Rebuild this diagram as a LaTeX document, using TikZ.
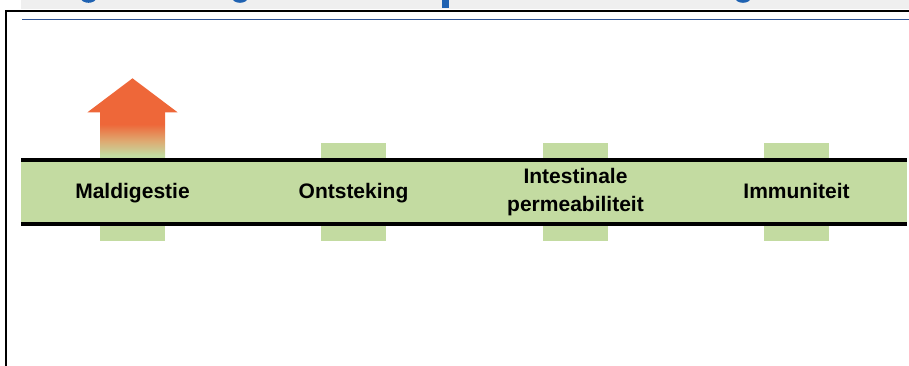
\documentclass[tikz,border=0pt]{standalone}
\usepackage{fontspec}
\setmainfont{Liberation Sans}
\definecolor{bandgreen}{HTML}{C3DBA1}
\definecolor{arroworange}{HTML}{EE6739}
\definecolor{arrowtan}{HTML}{DFA76F}
\definecolor{titleblue}{HTML}{1F62B2}
\definecolor{ruleblue}{HTML}{2F5496}
\definecolor{bandgrey}{HTML}{EFEFEF}
\pgfdeclareverticalshading{arrowshade}{100bp}{color(0bp)=(bandgreen); color(29bp)=(bandgreen); color(45bp)=(arrowtan); color(62bp)=(arroworange); color(100bp)=(arroworange)}
\tikzset{
  tabbox/.style={fill=bandgreen, draw=none},
  bandline/.style={line width=3.6bp, black},
  lbl/.style={font=\fontsize{21bp}{27.5bp}\selectfont\bfseries, align=center, inner sep=0pt},
  frameline/.style={line width=2bp, black}
}
\begin{document}
\begin{tikzpicture}[x=1bp,y=-1bp]
\useasboundingbox (0,0) rectangle (909,365);
% grey title strip with clipped title fragments
\fill[bandgrey] (21,-2) rectangle (911,9);
\begin{scope}
  \clip (21,0) rectangle (911,9);
  \fill[titleblue] (88.5,-1.8) ellipse [x radius=7.5, y radius=4.6];
  \fill[titleblue] (240,-1.8) ellipse [x radius=7.5, y radius=4.6];
  \fill[titleblue] (743,-1.8) ellipse [x radius=7.5, y radius=4.6];
  \fill[titleblue] (442,-2) rectangle (448.5,8);
\end{scope}
% frame
\coordinate (fa) at (6.3,366);
\coordinate (fb) at (6.3,11);
\coordinate (fc) at (911,11);
\draw[frameline] (fa) -- (fb) -- (fc);
\coordinate (ra) at (22,19.5);
\coordinate (rb) at (911,19.5);
\draw[ruleblue, line width=1.3bp] (ra) -- (rb);
% tabs
\foreach \cx in {132.5,353.5,575.5,796.5}{
  \fill[tabbox] (\cx-32.5,143) rectangle (\cx+32.5,159);
  \fill[tabbox] (\cx-32.5,225) rectangle (\cx+32.5,241);
}
% arrow
\shade[shading=arrowshade] (100,112) rectangle (165,159);
\fill[arroworange] (87.3,112.4) -- (132.5,78.3) -- (177.7,112.4) -- cycle;
% band
\fill[bandgreen] (21,160) rectangle (907,224);
\coordinate (bl1) at (21,160);
\coordinate (br1) at (907,160);
\coordinate (bl2) at (21,224);
\coordinate (br2) at (907,224);
\draw[bandline] (bl1) -- (br1);
\draw[bandline] (bl2) -- (br2);
% labels
\node[lbl, anchor=base] (mal) at (132.5,198) {Maldigestie};
\node[lbl, anchor=base] (ont) at (353.5,198) {Ontsteking};
\node[lbl] (int) at (575.5,192) {Intestinale\\permeabiliteit};
\node[lbl, anchor=base] (imm) at (796.5,198) {Immuniteit};
\end{tikzpicture}
\end{document}
